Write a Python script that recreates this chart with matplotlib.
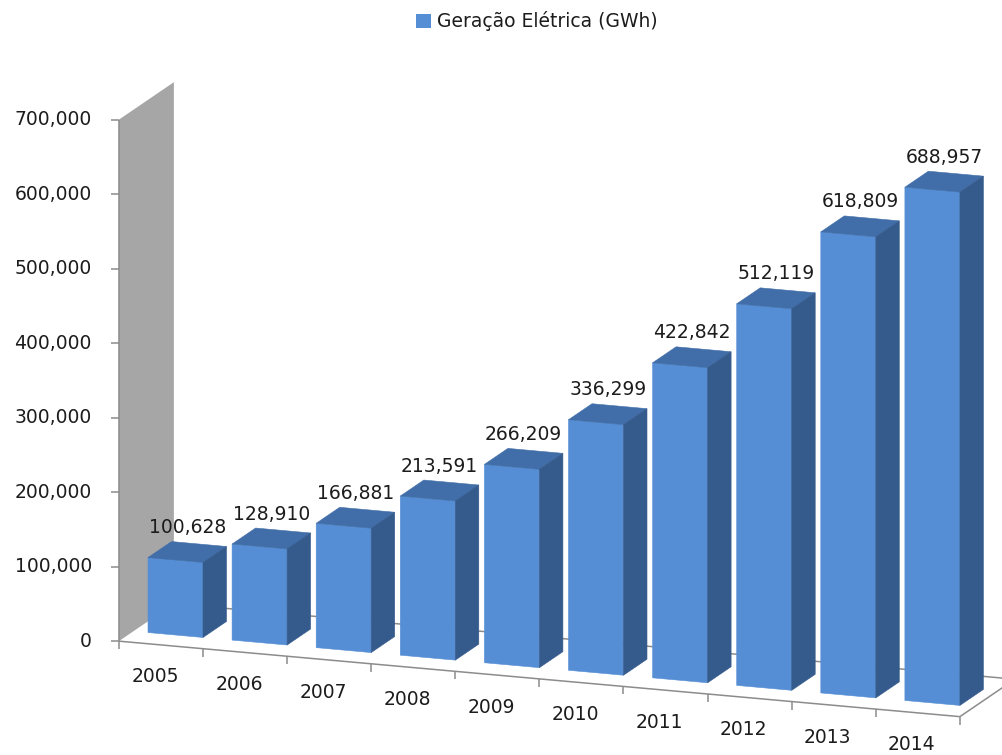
import matplotlib.pyplot as plt
from matplotlib.patches import Rectangle, Polygon, Patch
from matplotlib.transforms import Affine2D

plt.rcParams['font.family'] = ['DejaVu Sans']

# Geração elétrica anual (GWh)
years = ['2005', '2006', '2007', '2008', '2009', '2010', '2011', '2012', '2013', '2014']
geracao = [100628, 128910, 166881, 213591, 266209, 336299, 422842, 512119, 618809, 688957]
y_ticks = [0, 100000, 200000, 300000, 400000, 500000, 600000, 700000]
serie = 'Geração Elétrica (GWh)'

front_color = '#558ed5'
top_color = '#416ea8'
side_color = '#355a8c'
wall_color = '#a6a6a6'
line_color = '#8c8c8c'
text_color = '#1c1c1c'
fs = 13.5

fig = plt.figure(figsize=(10.03, 7.55), dpi=100)
ax = fig.add_axes([0, 0, 1, 1])
ax.set_xlim(0, 1003)
ax.set_ylim(755, 0)
ax.axis('off')

# oblique projection: category u, value v, depth t -> pixels
pitch, slope, scale = 84.1, 7.55, 0.745e-3
depth_dx, depth_dy = 23.5, -16.0
x0, y0 = 175.5, 635.0
half_w = 0.327
t_front, t_back = -0.62, 1.72
u_left, u_right = -0.5, len(years) - 0.5


def plane(t):
    return Affine2D.from_values(pitch, slope, 0, -scale,
                                x0 + depth_dx * t, y0 + depth_dy * t)


def pt(u, v, t):
    return plane(t).transform((u, v))


def seg(p, q, **kw):
    ax.plot([p[0], q[0]], [p[1], q[1]], color=line_color, lw=1.1,
            solid_capstyle='butt', **kw)


# side wall
top_v = y_ticks[-1]
wall = [pt(u_left, 0, t_front), pt(u_left, top_v, t_front),
        pt(u_left, top_v, t_back), pt(u_left, 0, t_back)]
ax.add_patch(Polygon(wall, closed=True, facecolor=wall_color, edgecolor='none', zorder=1))

# floor edges
seg(pt(u_left, 0, t_front), pt(u_right, 0, t_front), zorder=2)
seg(pt(u_left, 0, t_back), pt(u_right, 0, t_back), zorder=2)
seg(pt(u_right, 0, t_front), pt(u_right, 0, t_back), zorder=2)
for k in range(len(years) + 1):
    p = pt(u_left + k, 0, t_front)
    seg(p, (p[0], p[1] + 8), zorder=2)

# value axis on the wall edge
seg(pt(u_left, 0, t_front), pt(u_left, top_v, t_front), zorder=2)
for v in y_ticks:
    p = pt(u_left, v, t_front)
    seg((p[0] - 8, p[1]), p, zorder=2)
    ax.text(p[0] - 27, p[1], f'{v:,}', ha='right', va='center',
            fontsize=fs, color=text_color)

# bars
for i, (yr, v) in enumerate(zip(years, geracao)):
    u0, u1 = i - half_w, i + half_w
    z = 3 + i
    ax.add_patch(Rectangle((u0, 0), u1 - u0, v, transform=plane(0) + ax.transData,
                           facecolor=front_color, edgecolor=front_color, lw=0.4, zorder=z))
    top = [pt(u0, v, 0), pt(u1, v, 0), pt(u1, v, 1), pt(u0, v, 1)]
    ax.add_patch(Polygon(top, closed=True, facecolor=top_color,
                         edgecolor=top_color, lw=0.4, zorder=z))
    side = [pt(u1, 0, 0), pt(u1, v, 0), pt(u1, v, 1), pt(u1, 0, 1)]
    ax.add_patch(Polygon(side, closed=True, facecolor=side_color,
                         edgecolor=side_color, lw=0.4, zorder=z))

    p = pt(i, v, 0.5)
    ax.text(p[0], p[1] - 19, f'{v:,}', ha='center', va='baseline',
            fontsize=fs, color=text_color, zorder=20)

    q = pt(i, 0, t_front)
    ax.text(q[0] - 6, q[1] + 32, yr, ha='center', va='center',
            fontsize=fs, color=text_color)

fig.legend(handles=[Patch(facecolor=front_color, label=serie)],
           loc='upper center', bbox_to_anchor=(0.535, 1.0), frameon=False,
           fontsize=fs, handlelength=0.8, handleheight=0.8, handletextpad=0.3,
           borderaxespad=0.2, labelcolor=text_color)

fig.savefig('out.png', dpi=100)
